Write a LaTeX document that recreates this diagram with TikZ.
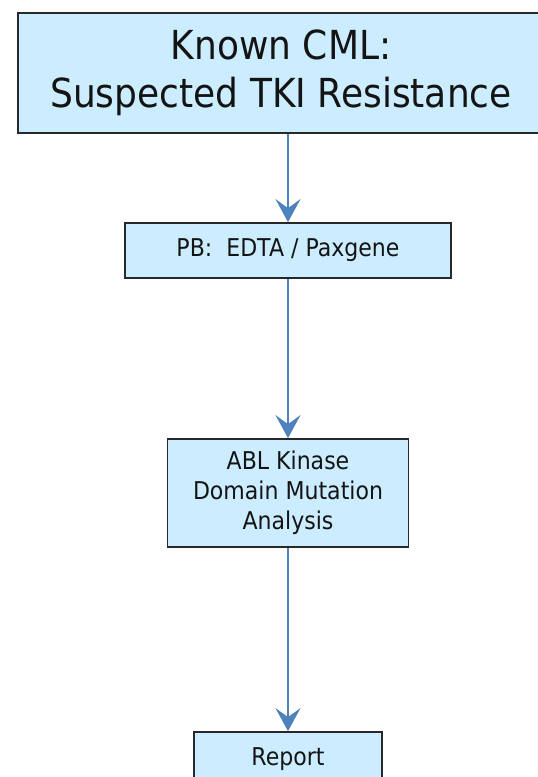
\documentclass[tikz,border=0pt]{standalone}
\usepackage{fontspec}
\setmainfont{DejaVu Sans}[FakeStretch=0.9]
\usetikzlibrary{arrows.meta}
\definecolor{boxfill}{RGB}{204,236,255}
\definecolor{boxline}{RGB}{40,40,40}
\definecolor{arrblue}{RGB}{79,129,189}
\definecolor{txt}{RGB}{20,20,20}
\tikzset{
  box/.style={draw=boxline, fill=boxfill, line width=1.8pt, inner sep=0pt, align=center, text=txt},
  bigtext/.style={font=\fontsize{40}{48}\selectfont},
  smalltext/.style={font=\fontsize{24.5}{30}\selectfont},
  arr/.style={draw=arrblue, line width=2pt, -{Stealth[length=23pt,width=25pt,inset=9pt]}}
}
\begin{document}
\begin{tikzpicture}[x=1pt,y=-1pt]
\useasboundingbox (0,0) rectangle (538,777);
\clip (0,0) rectangle (538,777);
\fill[white] (0,0) rectangle (538,777);
\node[box, bigtext, minimum width=526pt, minimum height=120pt] (top) at (281,73) {Known CML:\\Suspected TKI Resistance};
\node[box, smalltext, minimum width=326pt, minimum height=55pt] (pb) at (288,250.5) {PB:\ \ EDTA / Paxgene};
\node[box, smalltext, minimum width=241pt, minimum height=108pt] (abl) at (288,493) {ABL Kinase\\Domain Mutation\\Analysis};
\node[box, smalltext, minimum width=188pt, minimum height=54pt] (rep) at (288,759) {Report};
\draw[arr] (top.south -| pb.north) -- (pb.north);
\draw[arr] (pb.south) -- (abl.north);
\draw[arr] (abl.south) -- (rep.north);
\end{tikzpicture}
\end{document}
